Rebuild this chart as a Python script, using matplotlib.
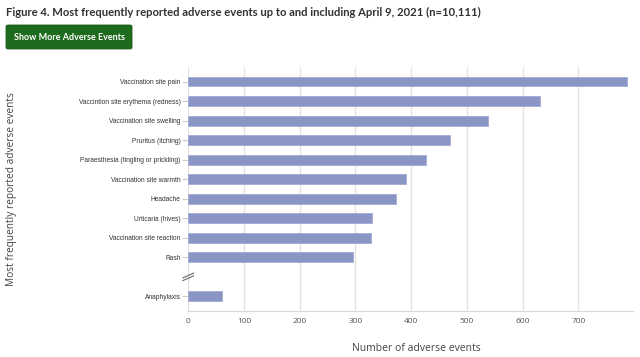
import numpy as np
import matplotlib.pyplot as plt
from matplotlib.patches import FancyBboxPatch

# data
kejadian = [
    "Vaccination site pain",
    "Vaccintion site erythema (redness)",
    "Vaccination site swelling",
    "Pruritus (itching)",
    "Paraesthesia (tingling or prickling)",
    "Vaccination site warmth",
    "Headache",
    "Urticaria (hives)",
    "Vaccination site reaction",
    "Rash",
    "Anaphylaxis",
]
jumlah = [788, 631, 538, 470, 427, 390, 373, 330, 328, 296, 60]
x_ticks = [0, 100, 200, 300, 400, 500, 600, 700]

# posisi baris: baris ke-10 dikosongkan untuk tanda patah sumbu
posisi = list(range(10)) + [11]
baris_patah = 10

fig = plt.figure(figsize=(6.4, 3.57), dpi=100)
ax = fig.add_axes([0.2942, 0.1289, 0.6948, 0.6835])

ax.barh(posisi, jumlah, height=0.5, color="#8b95c5", edgecolor="#a3abd2", linewidth=0.6, zorder=3)

ax.set_xlim(0, 798)
ax.set_ylim(11.75, -0.75)
ax.set_xticks(x_ticks)
ax.set_xticklabels([str(v) for v in x_ticks], fontsize=6, color="#555555", family="Open Sans")
ax.set_yticks(posisi)
ax.set_yticklabels(kejadian, fontsize=4.8, color="#333333", family="Liberation Sans")
ax.tick_params(axis="x", length=0, pad=5)
ax.tick_params(axis="y", length=4, color="#cccccc", width=0.8, pad=1.5)

ax.grid(axis="x", color="#e3e3e3", linewidth=1, zorder=0)
for s in ["top", "right", "left"]:
    ax.spines[s].set_visible(False)
ax.spines["bottom"].set_color("#d6d6d6")

ax.set_xlabel("Number of adverse events", fontsize=7.5, color="#444444", family="Open Sans")
ax.xaxis.set_label_coords(0.512, -0.133)
ax.set_ylabel("Most frequently reported adverse events", fontsize=7.3, color="#444444",
              family="Open Sans")
ax.yaxis.set_label_coords(-0.386, 0.5)

# tanda patah sumbu (dua garis miring)
tr = ax.get_yaxis_transform()
for dy in [-0.07, 0.07]:
    ax.plot([-0.012, 0.012], [baris_patah + 0.12 + dy, baris_patah - 0.12 + dy], transform=tr,
            color="#666666", linewidth=0.8, clip_on=False, zorder=5)

# judul dan tombol
fig.text(0.009, 0.965, "Figure 4. Most frequently reported adverse events up to and including April 9, 2021 (n=10,111)",
         fontsize=8.1, color="#333333", family="Lato", weight="bold", va="center", ha="left")
tombol = FancyBboxPatch((6 / 640, 1 - 49 / 357), 126 / 640, 24 / 357,
                        boxstyle="round,pad=0,rounding_size=0.004", transform=fig.transFigure,
                        facecolor="#1e6b1e", edgecolor="#1a5c1a", linewidth=0.6)
fig.patches.append(tombol)
fig.text(69 / 640, 1 - 37 / 357, "Show More Adverse Events", fontsize=6.5, color="white",
         family="Lato", weight="bold", va="center", ha="center")

fig.savefig("out.png", dpi=100)
